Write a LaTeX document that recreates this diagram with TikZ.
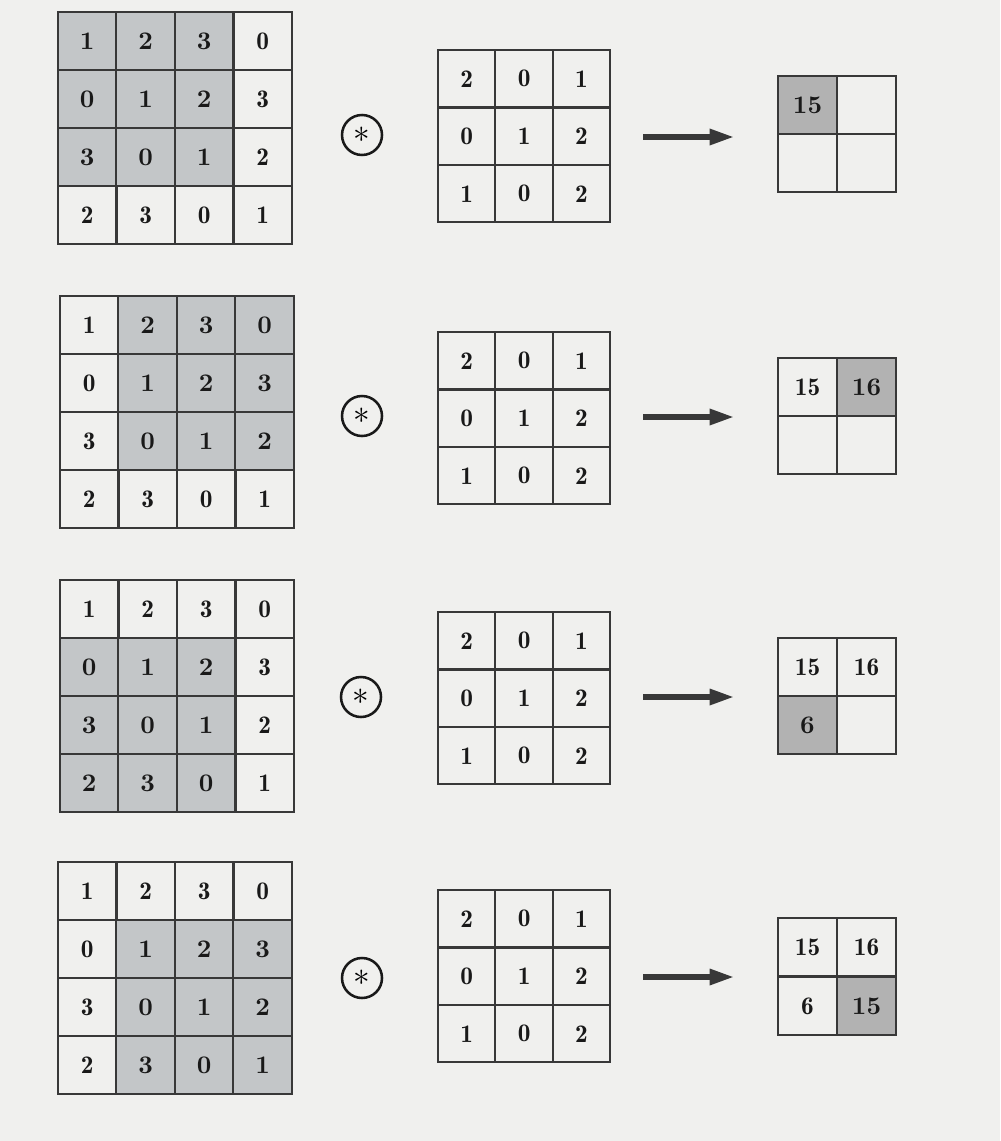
\documentclass[tikz,border=0pt]{standalone}
\usepackage{fontspec}
\setmainfont{lmromandemi10-regular}[Extension=.otf, BoldFont=lmroman10-bold]
\usetikzlibrary{arrows.meta}
\definecolor{bg}{HTML}{F0F0EE}
\definecolor{shade}{HTML}{C3C6C8}
\definecolor{oshade}{HTML}{B2B2B2}
\definecolor{ln}{HTML}{383838}
\tikzset{
  cellbase/.style={draw=ln, line width=1.5pt, inner sep=0pt, text=black!90,
    font=\fontsize{19}{21}\selectfont},
  incell/.style={cellbase, minimum width=43.9pt, minimum height=43.5pt},
  kcell/.style={cellbase, minimum width=43pt, minimum height=43pt},
  ocell/.style={cellbase, minimum width=44.3pt, minimum height=43.7pt},
  shaded/.style={fill=shade, font=\fontsize{19}{21}\selectfont\bfseries},
  oshaded/.style={fill=oshade, font=\fontsize{19}{21}\selectfont\bfseries},
  opcircle/.style={circle, draw=black!90, line width=1.9pt, minimum size=30pt,
    inner sep=0pt, font=\fontsize{30}{30}\selectfont},
  bigarrow/.style={draw=ln, line width=5pt, -{Triangle[length=19pt,width=11pt]}}
}
% input grid: #1 name, #2 x0, #3 y0, #4 window row, #5 window col
\newcommand\ingrid[5]{%
  \foreach \v [count=\i from 0] in {1,2,3,0,0,1,2,3,3,0,1,2,2,3,0,1} {
    \pgfmathtruncatemacro\rr{int(\i/4)}
    \pgfmathtruncatemacro\cc{mod(\i,4)}
    \pgfmathtruncatemacro\ss{and(and(\rr>=#4,\rr<=#4+2),and(\cc>=#5,\cc<=#5+2))}
    \ifnum\ss=1
      \node[incell, shaded] (#1-\rr-\cc) at ({#2+(\cc+0.5)*58.5},{#3+(\rr+0.5)*58}) {\v};
    \else
      \node[incell] (#1-\rr-\cc) at ({#2+(\cc+0.5)*58.5},{#3+(\rr+0.5)*58}) {\v};
    \fi
  }}
% kernel grid: #1 name, #2 x0, #3 y0
\newcommand\kgrid[3]{%
  \foreach \v [count=\i from 0] in {2,0,1,0,1,2,1,0,2} {
    \pgfmathtruncatemacro\rr{int(\i/3)}
    \pgfmathtruncatemacro\cc{mod(\i,3)}
    \node[kcell] (#1-\rr-\cc) at ({#2+(\cc+0.5)*57.4},{#3+(\rr+0.5)*57.5}) {\v};
  }}
\begin{document}
\begin{tikzpicture}[x=0.75pt, y=-0.75pt]
\fill[bg] (0,0) rectangle (1000,1141);
\useasboundingbox (0,0) rectangle (1000,1141);

% ---------- row 1 ----------
\ingrid{a}{58}{12}{0}{0}
\node[opcircle] (op1) at (362,135) {$\ast$};
\kgrid{ka}{438}{50}
\coordinate (s1) at (643,137);
\coordinate (e1) at (735,137);
\draw[bigarrow] (s1) -- (e1);
\node[ocell, oshaded] (oa-0-0) at (807.5,105) {15};
\node[ocell] (oa-0-1) at (866.5,105) {};
\node[ocell] (oa-1-0) at (807.5,163) {};
\node[ocell] (oa-1-1) at (866.5,163) {};

% ---------- row 2 ----------
\ingrid{b}{60}{296}{0}{1}
\node[opcircle] (op2) at (362,416) {$\ast$};
\kgrid{kb}{438}{332}
\coordinate (s2) at (643,417);
\coordinate (e2) at (735,417);
\draw[bigarrow] (s2) -- (e2);
\node[ocell] (ob-0-0) at (807.5,387) {15};
\node[ocell, oshaded] (ob-0-1) at (866.5,387) {16};
\node[ocell] (ob-1-0) at (807.5,445) {};
\node[ocell] (ob-1-1) at (866.5,445) {};

% ---------- row 3 ----------
\ingrid{c}{60}{580}{1}{0}
\node[opcircle] (op3) at (361,697) {$\ast$};
\kgrid{kc}{438}{612}
\coordinate (s3) at (643,697);
\coordinate (e3) at (735,697);
\draw[bigarrow] (s3) -- (e3);
\node[ocell] (oc-0-0) at (807.5,667) {15};
\node[ocell] (oc-0-1) at (866.5,667) {16};
\node[ocell, oshaded] (oc-1-0) at (807.5,725) {6};
\node[ocell] (oc-1-1) at (866.5,725) {};

% ---------- row 4 ----------
\ingrid{d}{58}{862}{1}{1}
\node[opcircle] (op4) at (362,978) {$\ast$};
\kgrid{kd}{438}{890}
\coordinate (s4) at (643,977);
\coordinate (e4) at (735,977);
\draw[bigarrow] (s4) -- (e4);
\node[ocell] (od-0-0) at (807.5,947) {15};
\node[ocell] (od-0-1) at (866.5,947) {16};
\node[ocell] (od-1-0) at (807.5,1006) {6};
\node[ocell, oshaded] (od-1-1) at (866.5,1006) {15};
\end{tikzpicture}
\end{document}
